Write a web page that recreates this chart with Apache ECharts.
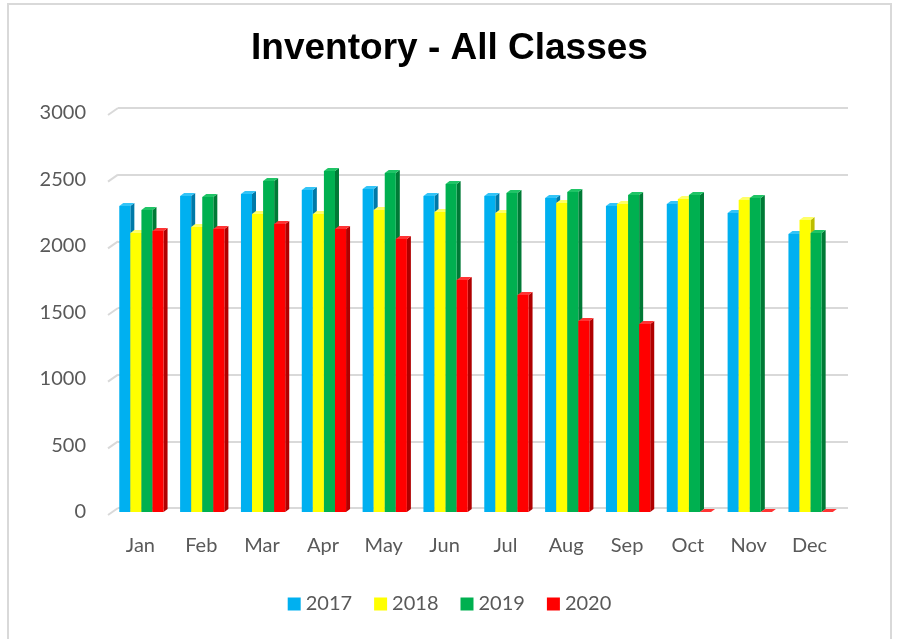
<!DOCTYPE html>
<html>
<head>
<meta charset="utf-8">
<script src="https://cdn.jsdelivr.net/npm/echarts@6/dist/echarts.min.js"></script>
<style>
  html, body { margin: 0; padding: 0; background: #fff; }
  #chart { width: 899px; height: 639px; }
</style>
</head>
<body>
<div id="chart"></div>
<script>
// 数据
const months = ['Jan', 'Feb', 'Mar', 'Apr', 'May', 'Jun', 'Jul', 'Aug', 'Sep', 'Oct', 'Nov', 'Dec'];
const years = ['2017', '2018', '2019', '2020'];
const inv2017 = [2300, 2376, 2391, 2421, 2429, 2376, 2376, 2361, 2300, 2316, 2248, 2090];
const inv2018 = [2098, 2143, 2241, 2241, 2271, 2256, 2248, 2323, 2316, 2353, 2346, 2195];
const inv2019 = [2270, 2368, 2489, 2564, 2549, 2466, 2398, 2406, 2383, 2383, 2361, 2098];
const inv2020 = [2113, 2128, 2165, 2128, 2053, 1744, 1632, 1436, 1414, 0, 0, 0];
const yTicks = [0, 500, 1000, 1500, 2000, 2500, 3000];

const chart = echarts.init(document.getElementById('chart'));

// 颜色: 正面 / 侧面 / 顶面
const colors = [
  { front: '#00B0F0', side: '#0079A8', top: '#33C4F7' },
  { front: '#FFFF00', side: '#BDBD00', top: '#FFFF66' },
  { front: '#00B050', side: '#007A36', top: '#1FC466' },
  { front: '#FF0000', side: '#B00000', top: '#FF3333' }
];
const seriesData = [inv2017, inv2018, inv2019, inv2020];

// 伪3D柱子
function bar3d(idx) {
  const c = colors[idx];
  return function (params, api) {
    const cat = api.value(0);
    const val = api.value(1);
    const p = api.coord([cat, val]);
    const b = api.coord([cat, 0]);
    const band = api.size([1, 0])[0];
    const w = band * 0.182;
    const x0 = p[0] - 2 * w + idx * w + 1;
    const dx = 4, dy = 3;
    return {
      type: 'group',
      children: [
        {
          type: 'polygon',
          shape: { points: [[x0 + w, p[1]], [x0 + w + dx, p[1] - dy], [x0 + w + dx, b[1] - dy], [x0 + w, b[1]]] },
          style: { fill: c.side }
        },
        {
          type: 'polygon',
          shape: { points: [[x0, p[1]], [x0 + dx, p[1] - dy], [x0 + w + dx, p[1] - dy], [x0 + w, p[1]]] },
          style: { fill: c.top }
        },
        {
          type: 'rect',
          shape: { x: x0, y: p[1], width: w, height: b[1] - p[1] },
          style: { fill: c.front }
        }
      ]
    };
  };
}

const series = [
  // 左侧墙上的斜线
  {
    type: 'custom',
    name: 'wall',
    xAxisIndex: 1,
    yAxisIndex: 1,
    silent: true,
    data: yTicks.map(v => [0, v]),
    renderItem: function (params, api) {
      const y = api.coord([0, api.value(1)])[1];
      const x = params.coordSys.x;
      return {
        type: 'line',
        shape: { x1: x, y1: y, x2: x - 10, y2: y + 7 },
        style: { stroke: '#d9d9d9', lineWidth: 2 }
      };
    }
  }
];

years.forEach(function (yr, i) {
  series.push({
    type: 'custom',
    name: yr,
    xAxisIndex: 0,
    yAxisIndex: 0,
    itemStyle: { color: colors[i].front },
    data: seriesData[i].map((v, k) => [k, v]),
    renderItem: bar3d(i)
  });
});

const option = {
  backgroundColor: '#fff',
  animation: false,
  textStyle: { fontFamily: 'Lato' },
  title: {
    text: 'Inventory - All Classes',
    left: 'center',
    top: 30,
    padding: 0,
    textStyle: { fontFamily: 'Liberation Sans', fontWeight: 'bold', fontSize: 37, color: '#000' }
  },
  legend: {
    data: years,
    bottom: 20,
    left: 'center',
    icon: 'rect',
    itemWidth: 13,
    itemHeight: 13,
    itemGap: 22,
    textStyle: { fontFamily: 'Lato', fontSize: 20, color: '#595959' }
  },
  graphic: [
    {
      type: 'rect',
      shape: { x: 8, y: 4, width: 883, height: 660 },
      style: { fill: 'none', stroke: '#d9d9d9', lineWidth: 2 },
      silent: true
    }
  ],
  grid: [
    { left: 110, right: 59, top: 113, bottom: 127 },
    { left: 118, right: 51, top: 108, bottom: 131 }
  ],
  xAxis: [
    {
      type: 'category',
      gridIndex: 0,
      data: months,
      axisLine: { show: false },
      axisTick: { show: false },
      axisLabel: { fontFamily: 'Lato', fontSize: 20, color: '#595959', margin: 24 }
    },
    {
      type: 'category',
      gridIndex: 1,
      data: months,
      show: false
    }
  ],
  yAxis: [
    {
      type: 'value',
      gridIndex: 0,
      min: 0,
      max: 3000,
      interval: 500,
      splitLine: { show: false },
      axisLine: { show: false },
      axisTick: { show: false },
      axisLabel: {
        fontFamily: 'Lato', fontSize: 20, color: '#595959', margin: 24,
        padding: [5, 0, 0, 0],
        formatter: function (v) { return String(v); }
      }
    },
    {
      type: 'value',
      gridIndex: 1,
      min: 0,
      max: 3000,
      interval: 500,
      axisLine: { show: false },
      axisTick: { show: false },
      axisLabel: { show: false },
      splitLine: { show: true, lineStyle: { color: '#d9d9d9', width: 2 } }
    }
  ],
  series: series
};

chart.setOption(option);
</script>
</body>
</html>
